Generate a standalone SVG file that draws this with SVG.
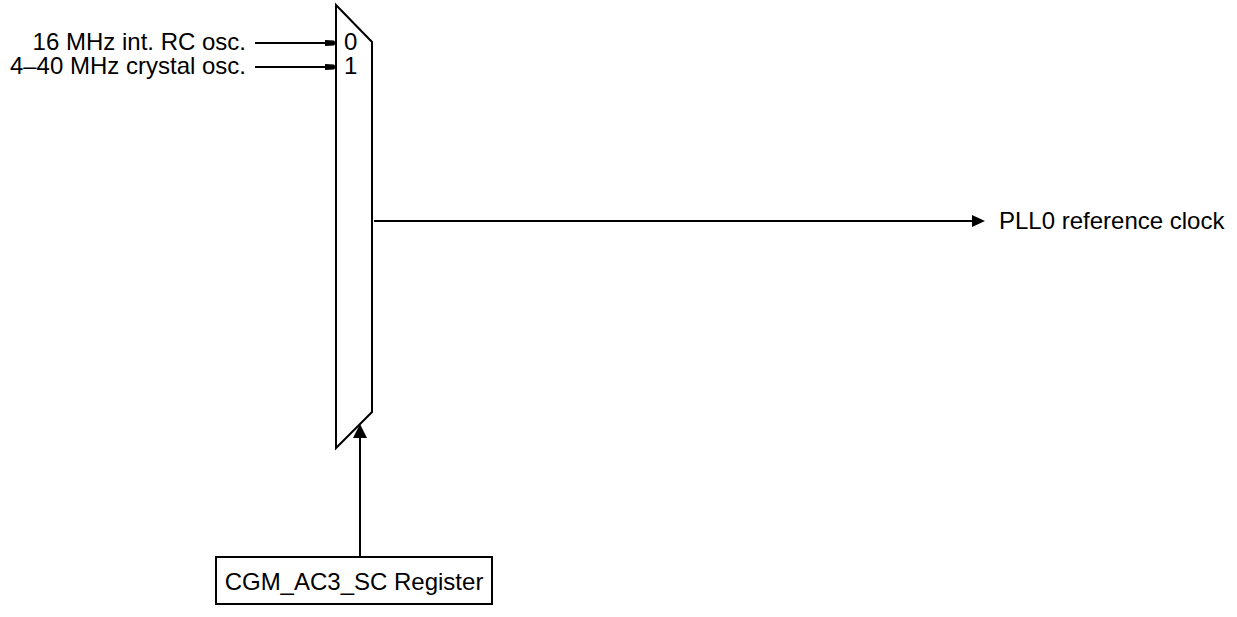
<svg xmlns="http://www.w3.org/2000/svg" width="1237" height="617" viewBox="0 0 1237 617">
<style>
text{font-family:"Liberation Sans",Arial,sans-serif;font-size:24px;fill:#000}
.ln{stroke:#000;stroke-width:2;fill:none}
.ah{fill:#000;stroke:none}
</style>
<rect width="1237" height="617" fill="#fff"/>
<g id="mux">
<polygon class="ln" points="336,5 372,42 372,412 336,448"/>
<text x="344" y="50">0</text>
<text x="344" y="74">1</text>
</g>
<g id="in0"><text x="246" y="50" text-anchor="end">16 MHz int. RC osc.</text></g>
<g id="in1"><text x="246" y="74" text-anchor="end">4–40 MHz crystal osc.</text></g>
<g id="out"><text x="999" y="229">PLL0 reference clock</text></g>
<g id="reg">
<rect class="ln" x="216" y="557" width="276" height="47"/>
<text x="354" y="590" text-anchor="middle">CGM_AC3_SC Register</text>
</g>
<g id="connectors">
<line class="ln" x1="255" y1="43" x2="327" y2="43"/>
<polygon class="ah" points="325,40 334,40.5 336,43 334,45.5 325,46"/>
<line class="ln" x1="255" y1="67" x2="327" y2="67"/>
<polygon class="ah" points="325,64 334,64.5 336,67 334,69.5 325,70"/>
<line class="ln" x1="374" y1="221" x2="975" y2="221"/>
<polygon class="ah" points="972,215 985,221 972,227"/>
<line class="ln" x1="360" y1="557" x2="360" y2="436"/>
<polygon class="ah" points="353,438 360,424 367,438"/>
</g>
</svg>
